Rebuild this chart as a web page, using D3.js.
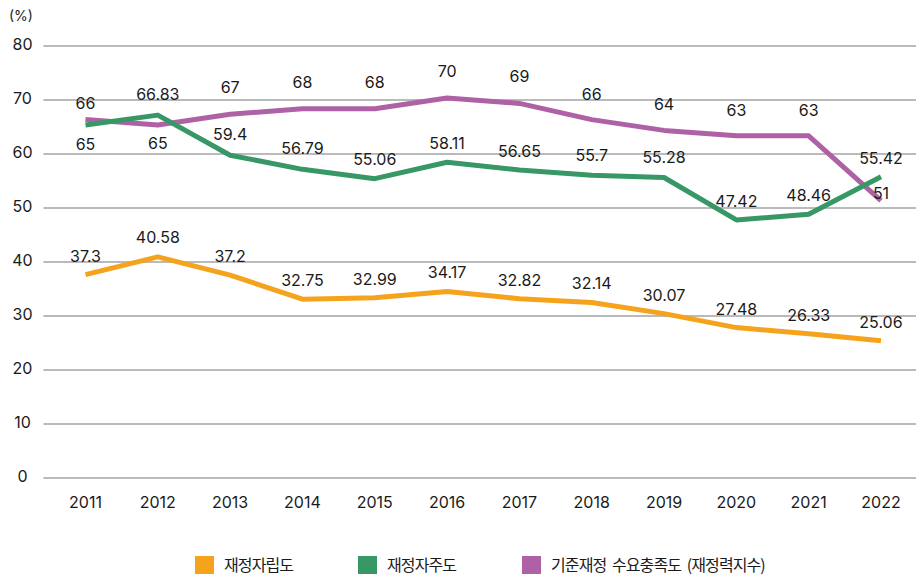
<!DOCTYPE html>
<html>
<head>
<meta charset="utf-8">
<script src="https://cdn.jsdelivr.net/npm/d3@7"></script>
<style>
  html, body { margin: 0; padding: 0; background: #fff; }
  svg { display: block; }
  text { font-family: Inter, "Noto Sans", sans-serif; fill: #1a1a1a; }
  .legend text { font-family: "Noto Sans CJK KR", sans-serif; }
</style>
</head>
<body>
<svg id="chart" width="916" height="575"></svg>
<script>
// ---- data ----
const years = ["2011","2012","2013","2014","2015","2016","2017","2018","2019","2020","2021","2022"];
const seriesNames = ["재정자립도", "재정자주도", "기준재정 수요충족도 (재정력지수)"];
const selfReliance = [37.3, 40.58, 37.2, 32.75, 32.99, 34.17, 32.82, 32.14, 30.07, 27.48, 26.33, 25.06];
const independence = [65, 66.83, 59.4, 56.79, 55.06, 58.11, 56.65, 55.7, 55.28, 47.42, 48.46, 55.42];
const demandRatio = [66, 65, 67, 68, 68, 70, 69, 66, 64, 63, 63, 51];
const yTicks = [0, 10, 20, 30, 40, 50, 60, 70, 80];
const yUnit = "(%)";

// ---- styles / label placement (not data) ----
const colors = ["#F5A31D", "#379866", "#AE62A5"];
const labelDy = [
  [-15, -16, -15, -15, -15, -15, -15, -15, -15, -15, -15, -15],
  [ 23, -17, -17, -17, -16, -15, -15, -16, -16, -15, -15, -15],
  [-13,  22, -23, -23, -23, -23, -23, -22, -22, -22, -22, -4]
];

const svg = d3.select("#chart");
const x = d3.scalePoint().domain(years).range([85.5, 881]);
const y = d3.scaleLinear().domain([0, 80]).range([478, 46]);

// gridlines
svg.append("g").selectAll("line").data(yTicks).join("line")
  .attr("x1", 43.5).attr("x2", 916)
  .attr("y1", d => y(d)).attr("y2", d => y(d))
  .attr("stroke", "#a3a3a3").attr("stroke-width", 1.3);

// y axis labels
svg.append("g").selectAll("text").data(yTicks).join("text")
  .attr("x", 22.5).attr("y", d => y(d) + 3.5)
  .attr("text-anchor", "middle").attr("font-size", 16)
  .text(d => d);

svg.append("text").attr("x", 9).attr("y", 21).attr("font-size", 14).text(yUnit);

// x axis labels
svg.append("g").selectAll("text").data(years).join("text")
  .attr("x", d => x(d)).attr("y", 507.5)
  .attr("text-anchor", "middle").attr("font-size", 16)
  .text(d => d);

const series = [selfReliance, independence, demandRatio];
const line = d3.line().x((d, i) => x(years[i])).y(d => y(d));

// draw order: purple, green, orange
const lines = svg.append("g").attr("transform", "translate(0,-2)");
[2, 1, 0].forEach(s => {
  lines.append("path").datum(series[s])
    .attr("d", line)
    .attr("fill", "none")
    .attr("stroke", colors[s])
    .attr("stroke-width", 5)
    .attr("stroke-linejoin", "round");
});

// value labels
const fmt = v => String(v);
series.forEach((vals, s) => {
  svg.append("g").selectAll("text").data(vals).join("text")
    .attr("x", (d, i) => x(years[i]))
    .attr("y", (d, i) => y(d) + labelDy[s][i])
    .attr("text-anchor", "middle").attr("font-size", 16)
    .text(fmt);
});

// legend
const legend = svg.append("g").attr("class", "legend");
const itemX = [195, 358, 522];
seriesNames.forEach((name, i) => {
  const g = legend.append("g").attr("transform", `translate(${itemX[i]},556)`);
  g.append("rect").attr("width", 19).attr("height", 18).attr("fill", colors[i]);
  g.append("text").attr("x", 29).attr("y", 15)
    .attr("font-size", 16).attr("letter-spacing", -0.9).attr("word-spacing", 3)
    .text(name);
});
</script>
</body>
</html>
